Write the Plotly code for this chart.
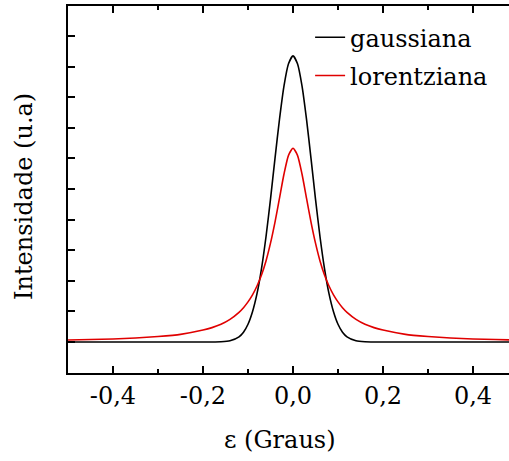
import plotly.graph_objects as go

# x positions (degrees) at which the curves were read
eps = [-0.50, -0.45, -0.40, -0.35, -0.30, -0.25, -0.20, -0.18, -0.16, -0.14, -0.12, -0.11,
       -0.10, -0.09, -0.08, -0.07, -0.06, -0.05, -0.04, -0.03, -0.02, -0.01, 0.00,
       0.01, 0.02, 0.03, 0.04, 0.05, 0.06, 0.07, 0.08, 0.09, 0.10, 0.11, 0.12,
       0.14, 0.16, 0.18, 0.20, 0.25, 0.30, 0.35, 0.40, 0.45, 0.50]

gaussiana = [0.0, 0.0, 0.0, 0.0, 0.0, 0.0, 0.0, 0.001, 0.008, 0.04, 0.17, 0.32,
             0.58, 0.99, 1.58, 2.40, 3.44, 4.67, 6.00, 7.28, 8.37, 9.09, 9.35,
             9.09, 8.37, 7.28, 6.00, 4.67, 3.44, 2.40, 1.58, 0.99, 0.58, 0.32, 0.17,
             0.04, 0.008, 0.001, 0.0, 0.0, 0.0, 0.0, 0.0, 0.0, 0.0]

lorentziana = [0.065, 0.08, 0.10, 0.13, 0.18, 0.25, 0.39, 0.47, 0.58, 0.74, 0.97, 1.12,
               1.31, 1.54, 1.83, 2.19, 2.65, 3.23, 3.92, 4.70, 5.49, 6.10, 6.33,
               6.10, 5.49, 4.70, 3.92, 3.23, 2.65, 2.19, 1.83, 1.54, 1.31, 1.12, 0.97,
               0.74, 0.58, 0.47, 0.39, 0.25, 0.18, 0.13, 0.10, 0.08, 0.065]

x_tickvals = [-0.4, -0.2, 0.0, 0.2, 0.4]
x_ticktext = ["-0,4", "-0,2", "0,0", "0,2", "0,4"]
y_tickvals = [0, 1, 2, 3, 4, 5, 6, 7, 8, 9, 10]

FONT = "DejaVu Serif"
FS = 24

fig = go.Figure()
fig.add_trace(go.Scatter(x=eps, y=gaussiana, mode="lines", name="gaussiana", legendgroup="g",
                         line=dict(color="black", width=1.6, shape="spline", smoothing=0.6)))
fig.add_trace(go.Scatter(x=eps, y=lorentziana, mode="lines", name="lorentziana", legendgroup="l",
                         line=dict(color="#e00000", width=1.6, shape="spline", smoothing=0.6)))

fig.update_layout(
    width=509, height=461,
    margin=dict(l=68, r=0, t=6, b=88),
    paper_bgcolor="white", plot_bgcolor="white",
    font=dict(family=FONT, size=FS, color="black"),
    showlegend=True,
    legend=dict(x=0.549, y=0.975, xanchor="left", yanchor="top",
                bgcolor="rgba(0,0,0,0)", borderwidth=0,
                font=dict(family=FONT, size=FS, color="black"),
                tracegroupgap=4, itemwidth=30),
    xaxis=dict(range=[-0.5, 0.48], tickvals=x_tickvals, ticktext=x_ticktext,
               ticks="inside", ticklen=7, tickwidth=2, tickcolor="black",
               minor=dict(ticks="inside", ticklen=4, tickwidth=2, tickcolor="black", dtick=0.1, tick0=0),
               showline=True, linewidth=2, linecolor="black", mirror="ticks",
               showgrid=False, zeroline=False,
               tickfont=dict(family=FONT, size=FS, color="black")),
    yaxis=dict(range=[-1.013, 10.98], tickvals=y_tickvals, showticklabels=False,
               ticks="inside", ticklen=7, tickwidth=2, tickcolor="black",
               showline=True, linewidth=2, linecolor="black", mirror=False,
               showgrid=False, zeroline=False),
    annotations=[
        dict(text="ε (Graus)", xref="paper", yref="paper", x=(280 - 68) / 441, y=-(440 - 373) / 367,
             xanchor="center", yanchor="middle", showarrow=False,
             font=dict(family=FONT, size=FS, color="black")),
        dict(text="Intensidade (u.a)", xref="paper", yref="paper", x=-(68 - 24) / 441, y=(373 - 197) / 367,
             xanchor="center", yanchor="middle", showarrow=False, textangle=-90,
             font=dict(family=FONT, size=FS, color="black")),
    ],
)

fig.write_html("out.html")
